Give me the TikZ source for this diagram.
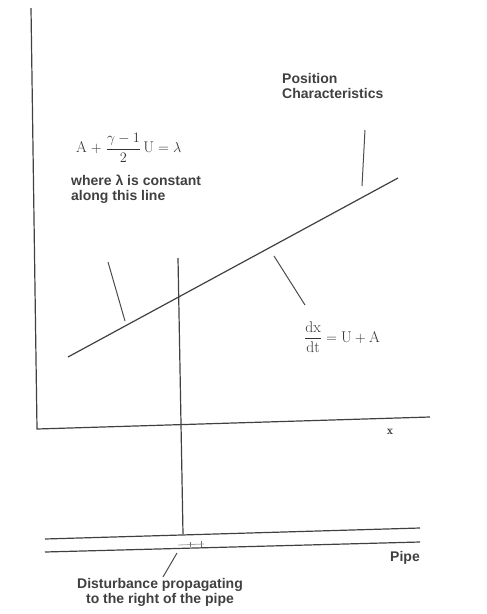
\documentclass[tikz,border=0pt]{standalone}
\usepackage{amsmath}
\usepackage{fontspec}
\newfontfamily\labfont{Liberation Sans}
\tikzset{
  ln/.style={draw=black!75, line width=1.2pt},
  lead/.style={draw=black!70, line width=1pt},
  lbl/.style={font=\labfont\bfseries\fontsize{14}{15}\selectfont, text=black!75, inner sep=0pt, align=left},
  eqn/.style={font=\fontsize{15.5}{17}\selectfont, text=black!80, inner sep=0pt}
}
\begin{document}
\begin{tikzpicture}[x=1pt,y=-1pt]
\useasboundingbox (0,0) rectangle (487,614);
% axes
\coordinate (ytop) at (31,8);
\coordinate (orig) at (37,429);
\coordinate (xend) at (430,417);
\draw[ln] (ytop) -- (orig) -- (xend);
% characteristic line
\coordinate (c1) at (68,357);
\coordinate (c2) at (398,178);
\draw[ln] (c1) -- (c2);
% vertical line
\coordinate (v1) at (178,258);
\coordinate (v2) at (183,534);
\draw[ln] (v1) -- (v2);
% pipe
\coordinate (pu1) at (45,539);
\coordinate (pu2) at (420,528);
\coordinate (pl1) at (45,552);
\coordinate (pl2) at (420,542);
\draw[ln] (pu1) -- (pu2);
\draw[ln] (pl1) -- (pl2);
% disturbance marks
\coordinate (d1) at (178,545);
\coordinate (d2) at (204,544);
\draw[draw=black!35, line width=0.8pt] (d1) -- (d2);
\coordinate (t1a) at (190,542); \coordinate (t1b) at (190,547);
\coordinate (t2a) at (201,541); \coordinate (t2b) at (201,547);
\draw[draw=black!55, line width=0.9pt] (t1a) -- (t1b) (t2a) -- (t2b);
% labels
\node[lbl, anchor=north west] (pos) at (282,73) {Position\\Characteristics};
\node[eqn, anchor=west] (eq) at (76,148) {$\mathrm{A}\mathrel{+}\dfrac{\gamma-1}{2}\,\mathrm{U}=\lambda$};
\node[lbl, anchor=north west] (wh) at (71,175) {where λ is constant\\along this line};
\node[eqn, anchor=west] (dx) at (304,337) {$\dfrac{\mathrm{dx}}{\mathrm{dt}}=\mathrm{U}+\mathrm{A}$};
\node[eqn, font=\fontsize{12}{14}\selectfont] (xl) at (390,432) {$\mathbf{x}$};
\node[lbl, anchor=east] (pipe) at (420,558) {Pipe};
\node[lbl, align=center] (dist) at (160,592) {Disturbance propagating\\to the right of the pipe};
% leaders
\coordinate (l1a) at (108,262); \coordinate (l1b) at (125,321);
\draw[lead] (l1a) -- (l1b);
\coordinate (l2a) at (365,130); \coordinate (l2b) at (362,186);
\draw[lead] (l2a) -- (l2b);
\coordinate (l3a) at (274,256); \coordinate (l3b) at (305,305);
\draw[lead] (l3a) -- (l3b);
\coordinate (l4a) at (177,553); \coordinate (l4b) at (163,577);
\draw[lead] (l4a) -- (l4b);
\end{tikzpicture}
\end{document}
